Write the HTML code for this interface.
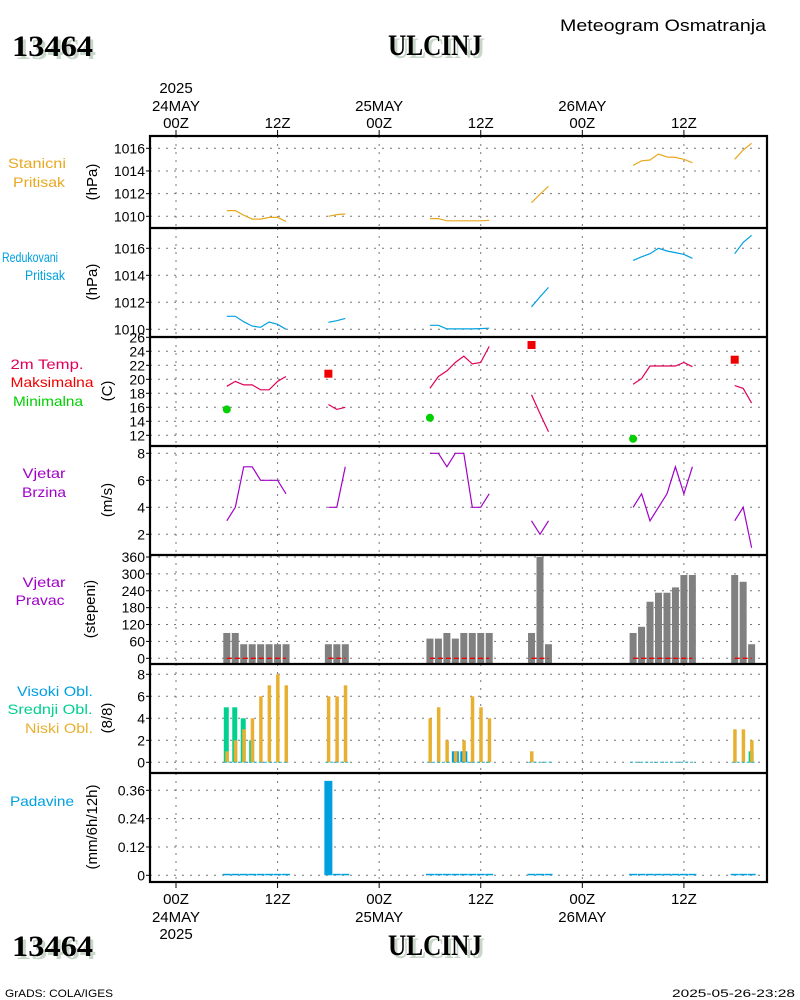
<!DOCTYPE html>
<html><head><meta charset="utf-8"><style>
html,body{margin:0;padding:0;background:#fff;}
svg{display:block;}
text{font-family:"Liberation Sans",sans-serif;}
.t{font-family:"Liberation Serif",serif;font-weight:bold;font-size:30px;}
</style></head><body>
<svg id="chart" width="800" height="1000" viewBox="0 0 800 1000" xmlns="http://www.w3.org/2000/svg">
<g>
<text x="560" y="31" font-size="17" textLength="206" lengthAdjust="spacingAndGlyphs">Meteogram Osmatranja</text>
<text class="t" x="15" y="59" fill="#c8d6c8" textLength="81" lengthAdjust="spacingAndGlyphs">13464</text>
<text class="t" x="12" y="56" fill="#000" textLength="81" lengthAdjust="spacingAndGlyphs">13464</text>
<text class="t" x="391" y="58" fill="#c8d6c8" textLength="94" lengthAdjust="spacingAndGlyphs">ULCINJ</text>
<text class="t" x="388" y="55" fill="#000" textLength="94" lengthAdjust="spacingAndGlyphs">ULCINJ</text>
<text class="t" x="15" y="959" fill="#c8d6c8" textLength="81" lengthAdjust="spacingAndGlyphs">13464</text>
<text class="t" x="12" y="956" fill="#000" textLength="81" lengthAdjust="spacingAndGlyphs">13464</text>
<text class="t" x="391" y="958" fill="#c8d6c8" textLength="94" lengthAdjust="spacingAndGlyphs">ULCINJ</text>
<text class="t" x="388" y="955" fill="#000" textLength="94" lengthAdjust="spacingAndGlyphs">ULCINJ</text>
<text x="5" y="997" font-size="11" textLength="108" lengthAdjust="spacingAndGlyphs">GrADS: COLA/IGES</text>
<text x="672" y="997" font-size="11" textLength="123" lengthAdjust="spacingAndGlyphs">2025-05-26-23:28</text>
</g>
<g id="grid"></g>
<g id="marks"></g>
<g id="frame"></g>
<g id="labels"></g>
</svg>
<script>
const hours = [6,7,8,9,10,11,12,13, 18,19,20, 30,31,32,33,34,35,36,37, 42,43,44, 54,55,56,57,58,59,60,61, 66,67,68];
const stanP = [1010.5,1010.5,1010.1,1009.75,1009.75,1009.9,1009.9,1009.55, 1010.0,1010.15,1010.2, 1009.8,1009.8,1009.6,1009.6,1009.6,1009.6,1009.6,1009.65, 1011.2,1011.95,1012.65, 1014.5,1014.9,1014.97,1015.5,1015.23,1015.2,1015.03,1014.73, 1015.03,1015.85,1016.44];
const redP = [1010.96,1010.96,1010.56,1010.24,1010.15,1010.54,1010.37,1010.0, 1010.52,1010.64,1010.81, 1010.3,1010.3,1010.03,1010.03,1010.03,1010.03,1010.05,1010.08, 1011.67,1012.4,1013.1, 1015.1,1015.37,1015.6,1016.0,1015.8,1015.68,1015.55,1015.26, 1015.6,1016.44,1016.96];
const temp = [19.0,19.7,19.2,19.2,18.5,18.5,19.7,20.4, 16.4,15.7,16.0, 18.7,20.4,21.2,22.4,23.3,22.2,22.4,24.7, 17.8,15.1,12.5, 19.3,20.1,21.9,21.9,21.9,21.9,22.4,21.8, 19.1,18.7,16.6];
const maxHours = [18,42,66];
const maxTemp = [20.8,24.9,22.8];
const minHours = [6,30,54];
const minTemp = [15.7,14.5,11.5];
const windSpd = [3,4,7,7,6,6,6,5, 4,4,7, 8,8,7,8,8,4,4,5, 3,2,3, 4,5,3,4,5,7,5,7, 3,4,1];
const windDir = [90,90,50,50,50,50,50,50, 50,50,50, 70,70,90,70,90,90,90,90, 90,360,50, 90,112,201,233,233,252,296,296, 296,272,50];
const lowCloud = [1,2,3,4,6,7,8,7, 6,6,7, 4,5,2,1,2,6,5,4, 1,0,0, 0,0,0,0,0,0,0,0, 3,3,2];
const midCloud = [5,5,4,2,0,0,0,0, 0,0,0, 0,0,0,0,0,0,0,0, 0,0,0, 0,0,0,0,0,0,0,0, 0,0,1];
const highCloud = [0,0,0,0,0,0,0,0, 0,0,0, 0,0,0,1,1,0,0,0, 0,0,0, 0,0,0,0,0,0,0,0, 0,0,0];
const precip = [0,0,0,0,0,0,0,0, 0.40,0,0, 0,0,0,0,0,0,0,0, 0,0,0, 0,0,0,0,0,0,0,0, 0,0,0];
const timeTicks = [0,12,24,36,48,60];
const timeLabels = ["00Z","12Z","00Z","12Z","00Z","12Z"];
const dayLabels = ["24MAY","","25MAY","","26MAY",""];
const t1Ticks = [1010,1012,1014,1016];
const t3Ticks = [12,14,16,18,20,22,24,26];
const t4Ticks = [2,4,6,8];
const t5Ticks = [0,60,120,180,240,300,360];
const t6Ticks = [0,2,4,6,8];
const t7Ticks = [0,0.12,0.24,0.36];
const t7Labels = ["0","0.12","0.24","0.36"];

const NS="http://www.w3.org/2000/svg";
const X0=150,X1=767;
function x(h){return 176+h*8.465;}
function lin(v0,p0,v1,p1){return v=>p0+(v-v0)*(p1-p0)/(v1-v0);}
const panels=[
 {top:136,bot:228,y:lin(1010,216.3,1016,148.3),ticks:t1Ticks},
 {top:228,bot:337,y:lin(1010,329.3,1016,248.3),ticks:t1Ticks},
 {top:337,bot:446,y:lin(26,337.3,12,435.3),ticks:t3Ticks},
 {top:446,bot:555,y:lin(8,453.3,2,534.3),ticks:t4Ticks},
 {top:555,bot:664,y:lin(0,658.3,360,557),ticks:t5Ticks},
 {top:664,bot:773,y:lin(0,762.3,8,674.3),ticks:t6Ticks},
 {top:773,bot:882,y:lin(0,875.3,0.36,790.3),ticks:t7Ticks,labels:t7Labels}
];
function mk(tag,attrs,parent,txt){const e=document.createElementNS(NS,tag);for(const k in attrs)e.setAttribute(k,attrs[k]);if(txt!==undefined)e.textContent=txt;parent.appendChild(e);return e;}
const G=document.getElementById('grid'),M=document.getElementById('marks'),F=document.getElementById('frame'),L=document.getElementById('labels');

panels.forEach((p,i)=>{
  p.ticks.forEach((t,j)=>{
    const yy=p.y(t);
    const gl=mk('line',{x1:X0,x2:X1,y1:yy,y2:yy,stroke:'#777','stroke-dasharray':'2,6','stroke-width':1},G);
    
    
    mk('line',{x1:X0-4,x2:X0,y1:yy,y2:yy,stroke:'#000'},G);
    const lb=mk('text',{x:X0-5,y:yy+5,'font-size':14,'text-anchor':'end'},L,p.labels?p.labels[j]:String(t));
    
    
  });
  timeTicks.forEach(h=>{
    const gl=mk('line',{x1:x(h),x2:x(h),y1:p.top,y2:p.bot,stroke:'#777','stroke-dasharray':'2,6'},G);
    
    
  });
});
timeTicks.forEach((h,i)=>{
  mk('line',{x1:x(h),x2:x(h),y1:130,y2:136,stroke:'#000'},F);
  mk('line',{x1:x(h),x2:x(h),y1:882,y2:888,stroke:'#000'},F);
  const a=mk('text',{x:x(h),y:128,'font-size':15,'text-anchor':'middle'},L,timeLabels[i]);
  
  
  const b=mk('text',{x:x(h),y:904,'font-size':15,'text-anchor':'middle'},L,timeLabels[i]);
  
  
  if(dayLabels[i]){
    const d=mk('text',{x:x(h),y:111,'font-size':15,'text-anchor':'middle'},L,dayLabels[i]);
    
    
    const e=mk('text',{x:x(h),y:922,'font-size':15,'text-anchor':'middle'},L,dayLabels[i]);
    
    
  }
});
mk('text',{x:x(0),y:93,'font-size':15,'text-anchor':'middle'},L,'2025');
mk('text',{x:x(0),y:939,'font-size':15,'text-anchor':'middle'},L,'2025');

function segments(){const s=[];let cur=[0];for(let i=1;i<hours.length;i++){if(hours[i]-hours[i-1]===1)cur.push(i);else{s.push(cur);cur=[i];}}s.push(cur);return s;}
const segs=segments();
function drawLine(vals,p,color,name){
  segs.forEach(sg=>{
    const pts=sg.map(i=>x(hours[i]).toFixed(1)+','+p.y(vals[i]).toFixed(1)).join(' ');
    const pl=mk('polyline',{points:pts,fill:'none',stroke:color,'stroke-width':1.2},M);
    
    
  });
}
drawLine(stanP,panels[0],'#e8a820','station-pressure-line');
drawLine(redP,panels[1],'#00a0e0','reduced-pressure-line');
drawLine(temp,panels[2],'#e0005a','temperature-line');
drawLine(windSpd,panels[3],'#a000c8','wind-speed-line');
maxHours.forEach((h,i)=>{
  const r=mk('rect',{x:x(h)-4,y:panels[2].y(maxTemp[i])-4,width:8,height:8,fill:'#f00000'},M);
  
  
});
minHours.forEach((h,i)=>{
  const c=mk('circle',{cx:x(h),cy:panels[2].y(minTemp[i]),r:4,fill:'#00d000'},M);
  
  
});
const p5=panels[4];
hours.forEach((h,i)=>{
  const yy=p5.y(windDir[i]);
  const r=mk('rect',{x:x(h)-3.5,y:yy,width:7,height:p5.bot-yy,fill:'#808080'},M);
  
  
});
segs.forEach(sg=>{
  const z=p5.y(0);
  mk('line',{x1:x(hours[sg[0]]),x2:x(hours[sg[sg.length-1]]),y1:z,y2:z,stroke:'#f00000','stroke-width':1.3,'stroke-dasharray':'5,3'},M);
});
const p6=panels[5];
hours.forEach((h,i)=>{
  const z=p6.y(0);
  if(midCloud[i]>0){const r=mk('rect',{x:x(h)-3,y:p6.y(midCloud[i]),width:5,height:z-p6.y(midCloud[i]),fill:'#00d090'},M);
    
    }
  if(highCloud[i]>0){const r=mk('rect',{x:x(h)-3.5,y:p6.y(highCloud[i]),width:7,height:z-p6.y(highCloud[i]),fill:'#00a0e0'},M);
    
    }
  if(lowCloud[i]>0){const r=mk('rect',{x:x(h)-1.5,y:p6.y(lowCloud[i]),width:3.5,height:z-p6.y(lowCloud[i]),fill:'#e8b030'},M);
    
    }
});
segs.forEach(sg=>{
  const z=p6.y(0);
  mk('line',{x1:x(hours[sg[0]])-3,x2:x(hours[sg[sg.length-1]])+3,y1:z,y2:z,stroke:'#20b0c0','stroke-width':1,'stroke-dasharray':'3,2'},M);
});
const p7=panels[6];
hours.forEach((h,i)=>{
  const z=p7.y(0), yy=p7.y(precip[i]);
  const r=mk('rect',{x:x(h)-4,y:Math.min(yy,z-1.5),width:8,height:Math.max(z-yy,1.5),fill:'#00a0e0'},M);
  
  
});
mk('rect',{x:X0,y:136,width:X1-X0,height:882-136,fill:'none',stroke:'#000','stroke-width':2.2},F);
[228,337,446,555,664,773].forEach(yy=>mk('line',{x1:X0,x2:X1,y1:yy,y2:yy,stroke:'#000','stroke-width':2.2},F));
const leftLabels=[
 ['Stanicni',37,168,'#e8a820',58],['Pritisak',39,187,'#e8a820',52],
 ['Redukovani',30,262,'#00a0e0',56],['Pritisak',45,280,'#00a0e0',40],
 ['2m Temp.',47,369,'#e0005a',73],['Maksimalna',52,387,'#f00000',83],['Minimalna',48,406,'#00d000',70],
 ['Vjetar',44,478,'#a000c8',43],['Brzina',44,497,'#a000c8',44],
 ['Vjetar',44,587,'#a000c8',43],['Pravac',40,605,'#a000c8',49],
 ['Visoki Obl.',55,696,'#00a0e0',76],['Srednji Obl.',50,714,'#00d090',85],['Niski Obl.',59,733,'#e8b030',68],
 ['Padavine',42,806,'#00a0e0',64]
];
leftLabels.forEach(l=>{
  const t=mk('text',{x:l[1],y:l[2],'font-size':14,'text-anchor':'middle',fill:l[3],textLength:l[4],lengthAdjust:'spacingAndGlyphs'},L,l[0]);
  
  
});
const units=[['(hPa)',182],['(hPa)',282],['(C)',391],['(m/s)',500],['(stepeni)',609],['(8/8)',718],['(mm/6h/12h)',827]];
units.forEach((u,i)=>{
  const xx=i===4?95:i===6?97:i===0||i===1?97:112;
  const t=mk('text',{x:xx,y:u[1],'font-size':15,'text-anchor':'middle',transform:`rotate(-90 ${xx} ${u[1]})`},L,u[0]);
  
  
});
</script>
</body></html>
